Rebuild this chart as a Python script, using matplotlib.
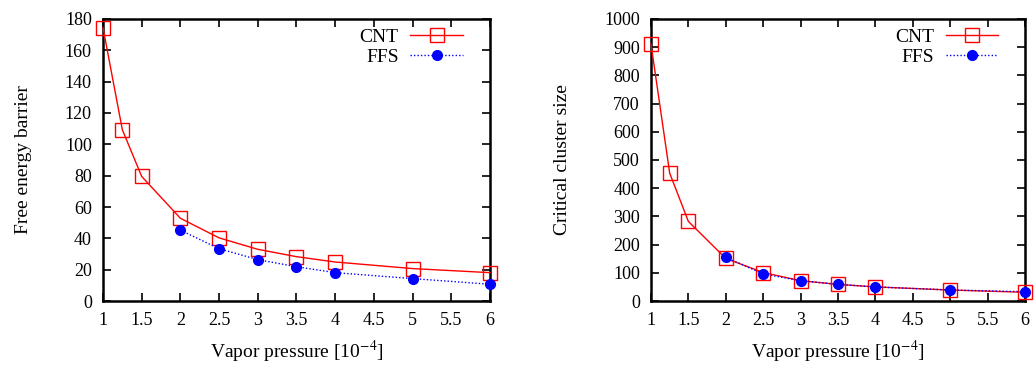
import numpy as np
import matplotlib
matplotlib.use('Agg')
import matplotlib.pyplot as plt

plt.rcParams['font.family'] = ['Liberation Serif', 'DejaVu Serif']
plt.rcParams['mathtext.fontset'] = 'stix'

########################################

# data

pressure_cnt = [1, 1.25, 1.5, 2, 2.5, 3, 3.5, 4, 5, 6]
pressure_ffs = [2, 2.5, 3, 3.5, 4, 5, 6]

barrier_cnt = [174.5, 109.3, 79.5, 52.8, 40.3, 33.0, 28.3, 24.9, 20.7, 18.1]
barrier_ffs = [45.2, 33.4, 26.4, 21.9, 18.1, 14.3, 10.7]

size_cnt = [911, 453, 282, 151, 101, 72, 59, 50, 39, 31]
size_ffs = [155, 96, 72, 59, 50, 39, 33]

xticks = [1, 1.5, 2, 2.5, 3, 3.5, 4, 4.5, 5, 5.5, 6]
xticklabels = ['1', '1.5', '2', '2.5', '3', '3.5', '4', '4.5', '5', '5.5', '6']

########################################

fig = plt.figure(figsize=(10.34, 3.65), dpi=100)
ax1 = fig.add_axes([0.0996, 0.1753, 0.3743, 0.7727])
ax2 = fig.add_axes([0.6296, 0.1753, 0.3617, 0.7727])

panels = [
    (ax1, barrier_cnt, barrier_ffs, 'Free energy barrier', np.arange(0, 181, 20), 180),
    (ax2, size_cnt, size_ffs, 'Critical cluster size', np.arange(0, 1001, 100), 1000),
]

for ax, cnt, ffs, ylabel, yticks, ymax in panels:
    ax.plot(pressure_cnt, cnt, color='red', lw=1.0, marker='s', ms=10.5,
            mfc='none', mec='red', mew=1.0, label='CNT', clip_on=False, zorder=3)
    ax.plot(pressure_ffs, ffs, color='blue', lw=1.0, ls=(0, (1, 1.5)), marker='o',
            ms=7, mfc='blue', mec='blue', label='FFS', clip_on=False, zorder=4)
    ax.set_xlim(1, 6)
    ax.set_ylim(0, ymax)
    ax.set_xticks(xticks)
    ax.set_xticklabels(xticklabels)
    ax.set_yticks(yticks)
    ax.tick_params(direction='in', top=True, right=True, length=6, width=1.2,
                   labelsize=13, pad=8)
    for s in ax.spines.values():
        s.set_linewidth(1.8)
    ax.set_xlabel('Vapor pressure [10$^{-4}$]', fontsize=14, labelpad=7)
    ax.set_ylabel(ylabel, fontsize=14, labelpad=24)
    ax.legend(loc='upper right', bbox_to_anchor=(0.965, 1.014), frameon=False,
              markerfirst=False, fontsize=14, handlelength=2.7, handletextpad=0.6,
              labelspacing=0.1, borderaxespad=0.3)

fig.savefig('out.png', dpi=100)
